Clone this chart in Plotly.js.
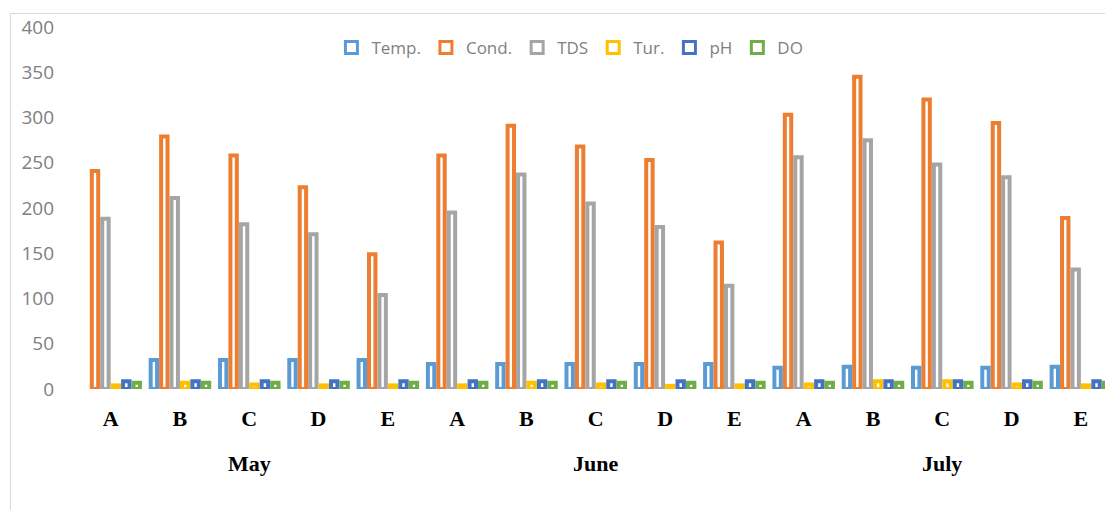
<!DOCTYPE html>
<html><head><meta charset="utf-8">
<script src="https://cdn.plot.ly/plotly-3.0.1.min.js"></script>
<style>
html,body{margin:0;padding:0;overflow:hidden;background:#fff;}
#chart{width:1105px;height:510px;position:absolute;left:0;top:0;}
#frame{position:absolute;left:10px;top:13px;width:1200px;height:600px;border:1.5px solid #d9d9d9;pointer-events:none;}
#chart .legendpoints path{stroke-width:3px !important;}
</style></head><body>
<div id="chart"></div><div id="frame"></div>
<script>
const months = ['May', 'June', 'July'];
const sites = ['A', 'B', 'C', 'D', 'E'];
const seriesNames = ['Temp.', 'Cond.', 'TDS', 'Tur.', 'pH', 'DO'];
const temp = [null, 32, 32, 32, 32, 27.5, 27.5, 27.5, 27.5, 27.5, 23.5, 24.5, 23.5, 23.5, 24.5];
const cond = [241, 279, 258, 223, 149, 258, 291, 268, 253, 162, 303, 345, 320, 294, 189];
const tds  = [188, 211, 182, 171, 104, 195, 237, 205, 179, 114, 256, 275, 248, 234, 132];
const tur  = [4, 7, 5, 4, 4, 4, 7, 5, 3.5, 4, 5, 8.5, 8.5, 5, 4];
const ph   = [8.6, 8.6, 8.6, 8.6, 8.6, 8.6, 8.6, 8.6, 8.6, 8.6, 8.6, 8.6, 8.6, 8.6, 8.6];
const dox  = [7, 7, 7, 7, 7, 7, 7, 7, 7, 7, 7, 7, 7, 7, 7];
const yTicks = [0, 50, 100, 150, 200, 250, 300, 350, 400];

const colors = ['#5B9BD5', '#ED7D31', '#A5A5A5', '#FFC000', '#4472C4', '#70AD47'];
const values = [temp, cond, tds, tur, ph, dox];

const keys = [], tickText = [];
months.forEach(m => sites.forEach(s => { keys.push(m + ' ' + s); tickText.push(s); }));

const traces = values.map((v, i) => ({
  type: 'bar', name: seriesNames[i], x: keys, y: v,
  marker: {color: '#ffffff', line: {color: colors[i], width: 4}},
  cliponaxis: false, hoverinfo: 'skip'
}));

const annotations = months.map(m => ({
  x: m + ' C', xref: 'x', y: -0.207, yref: 'paper', yanchor: 'middle',
  text: m, showarrow: false,
  font: {family: 'Liberation Serif', size: 22, color: '#000', weight: 'bold'}
}));

const layout = {
  width: 1105, height: 510,
  margin: {l: 76, r: 0, t: 27, b: 121, pad: 0},
  paper_bgcolor: '#fff', plot_bgcolor: 'rgba(0,0,0,0)',
  barmode: 'group', bargap: 0.097, bargroupgap: 0.386,
  showlegend: true,
  legend: {orientation: 'h', x: 0.48, xanchor: 'center', y: 0.942, yanchor: 'middle',
    font: {family: 'Open Sans', size: 17, color: '#7f7f7f'}, bgcolor: 'rgba(0,0,0,0)'},
  xaxis: {type: 'category', range: [-0.5, 14.348], tickvals: keys, ticktext: tickText,
    showgrid: false, zeroline: false, showline: false, ticks: '', ticklabelstandoff: 14,
    tickfont: {family: 'Liberation Serif', size: 22, color: '#000', weight: 'bold'}, automargin: false},
  yaxis: {range: [0, 400], tickvals: yTicks, showgrid: false, zeroline: false, showline: false,
    ticks: '', ticklabelstandoff: 21,
    tickfont: {family: 'Open Sans', size: 19, color: '#808080'}, automargin: false},
  annotations: annotations
};

Plotly.newPlot('chart', traces, layout, {displayModeBar: false, staticPlot: true});
</script>
</body></html>
